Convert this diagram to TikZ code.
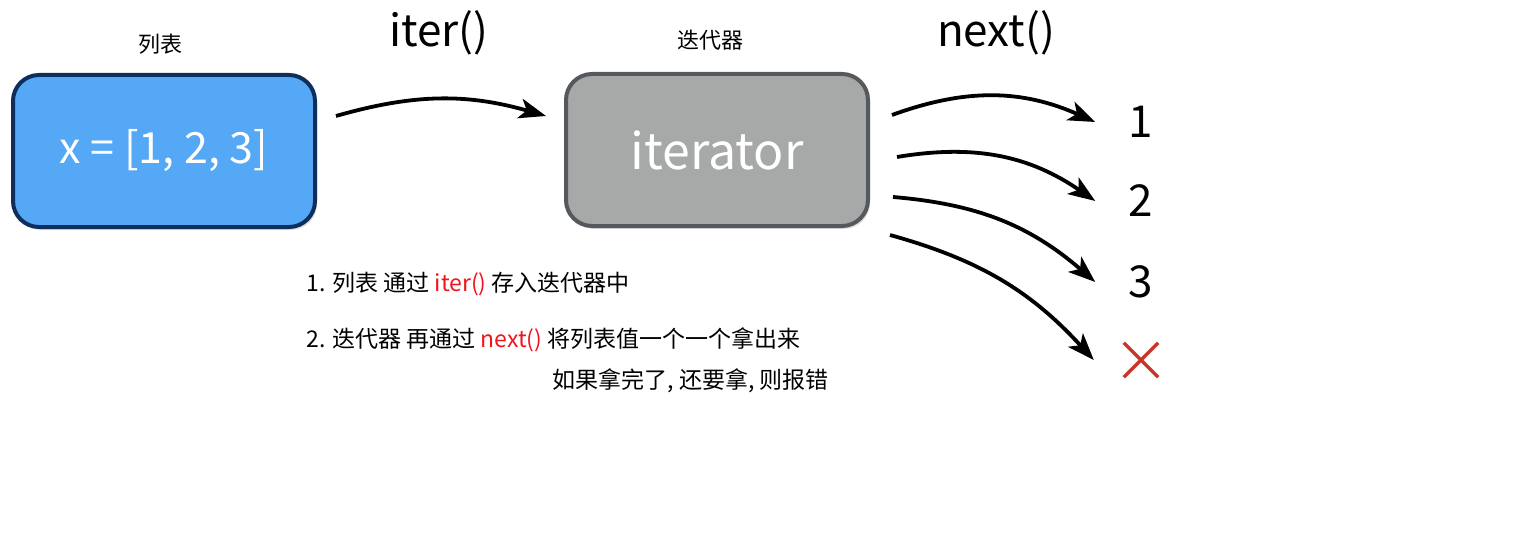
\documentclass[tikz,border=0pt]{standalone}
\usepackage{fontspec}
\setmainfont{Noto Sans CJK SC}
\usetikzlibrary{arrows.meta,shadows,positioning}

\definecolor{listblau}{HTML}{55A8F5}
\definecolor{listrand}{HTML}{0E2F5C}
\definecolor{itergrau}{HTML}{A7A9A8}
\definecolor{iterrand}{HTML}{55585C}
\definecolor{rot}{HTML}{F0141E}
\definecolor{kreuzrot}{HTML}{C8352A}

\begin{document}
\begin{tikzpicture}[
      x=1pt, y=-1pt,
      kasten/.style={rounded corners=26pt, line width=4pt, minimum width=302pt,
        minimum height=152pt, text=white, font=\fontsize{43}{50}\selectfont,
        drop shadow={opacity=0.25, shadow xshift=2pt, shadow yshift=-3pt}},
      pfeil/.style={line width=3.8pt, black, -{Stealth[length=27pt, width=20pt, inset=7pt]}},
      titel/.style={font=\fontsize{44}{50}\selectfont},
      beschriftung/.style={font=\fontsize{22}{26}\selectfont},
      zeile/.style={font=\fontsize{23}{27}\selectfont, anchor=west},
      zahl/.style={font=\fontsize{44}{50}\selectfont}
    ]
    \useasboundingbox (0,0) rectangle (1535,551);

    % ---------- Liste ----------
    \node[kasten, fill=listblau, draw=listrand] (liste) at (164,151) {x = [1, 2, 3]};
    \node[beschriftung] (listetitel) at (160,44) {列表};

    % ---------- Iterator ----------
    \node[kasten, fill=itergrau, draw=iterrand, font=\fontsize{50}{56}\selectfont]
      (iter) at (717,150) {iterator};
    \node[beschriftung] (itertitel) at (710,40) {迭代器};

    % ---------- Funktionen ----------
    \node[titel] (iterfkt) at (439,33) {iter()};
    \node[titel] (nextfkt) at (996,33) {next()};

    \coordinate (iteranfang) at (336,116);
    \coordinate (iterende)   at (546,116);
    \draw[pfeil] (iteranfang) to[bend left=16] (iterende);

    % ---------- Werte ----------
    \node[zahl] (eins) at (1141,122) {1};
    \node[zahl] (zwei) at (1141,201) {2};
    \node[zahl] (drei) at (1141,282) {3};
    \node[minimum size=34pt, inner sep=0pt] (kreuz) at (1141,360) {};
    \draw[kreuzrot, line width=3.5pt] (kreuz.north west) -- (kreuz.south east)
      (kreuz.north east) -- (kreuz.south west);

    % next()-Pfeile vom Iterator zu den Werten
    \foreach \sx/\sy/\ziel/\bg in {892/115/eins/22, 897/157/zwei/22, 893/197/drei/18, 890/235/kreuz/16}{
      \coordinate (start\ziel) at (\sx,\sy);
      \draw[pfeil] (start\ziel) to[bend left=\bg] ([xshift=-30pt]\ziel.west);
    }

    % ---------- Erklaerung ----------
    \node[zeile] (zeileeins) at (303,284) {1. 列表 通过 {\color{rot}iter()} 存入迭代器中};
    \node[zeile] (zeilezwei) at (303,340) {2. 迭代器 再通过 {\color{rot}next()} 将列表值一个一个拿出来};
    \node[zeile] (zeiledrei) at (549,381) {如果拿完了, 还要拿, 则报错};
  \end{tikzpicture}
\end{document}
